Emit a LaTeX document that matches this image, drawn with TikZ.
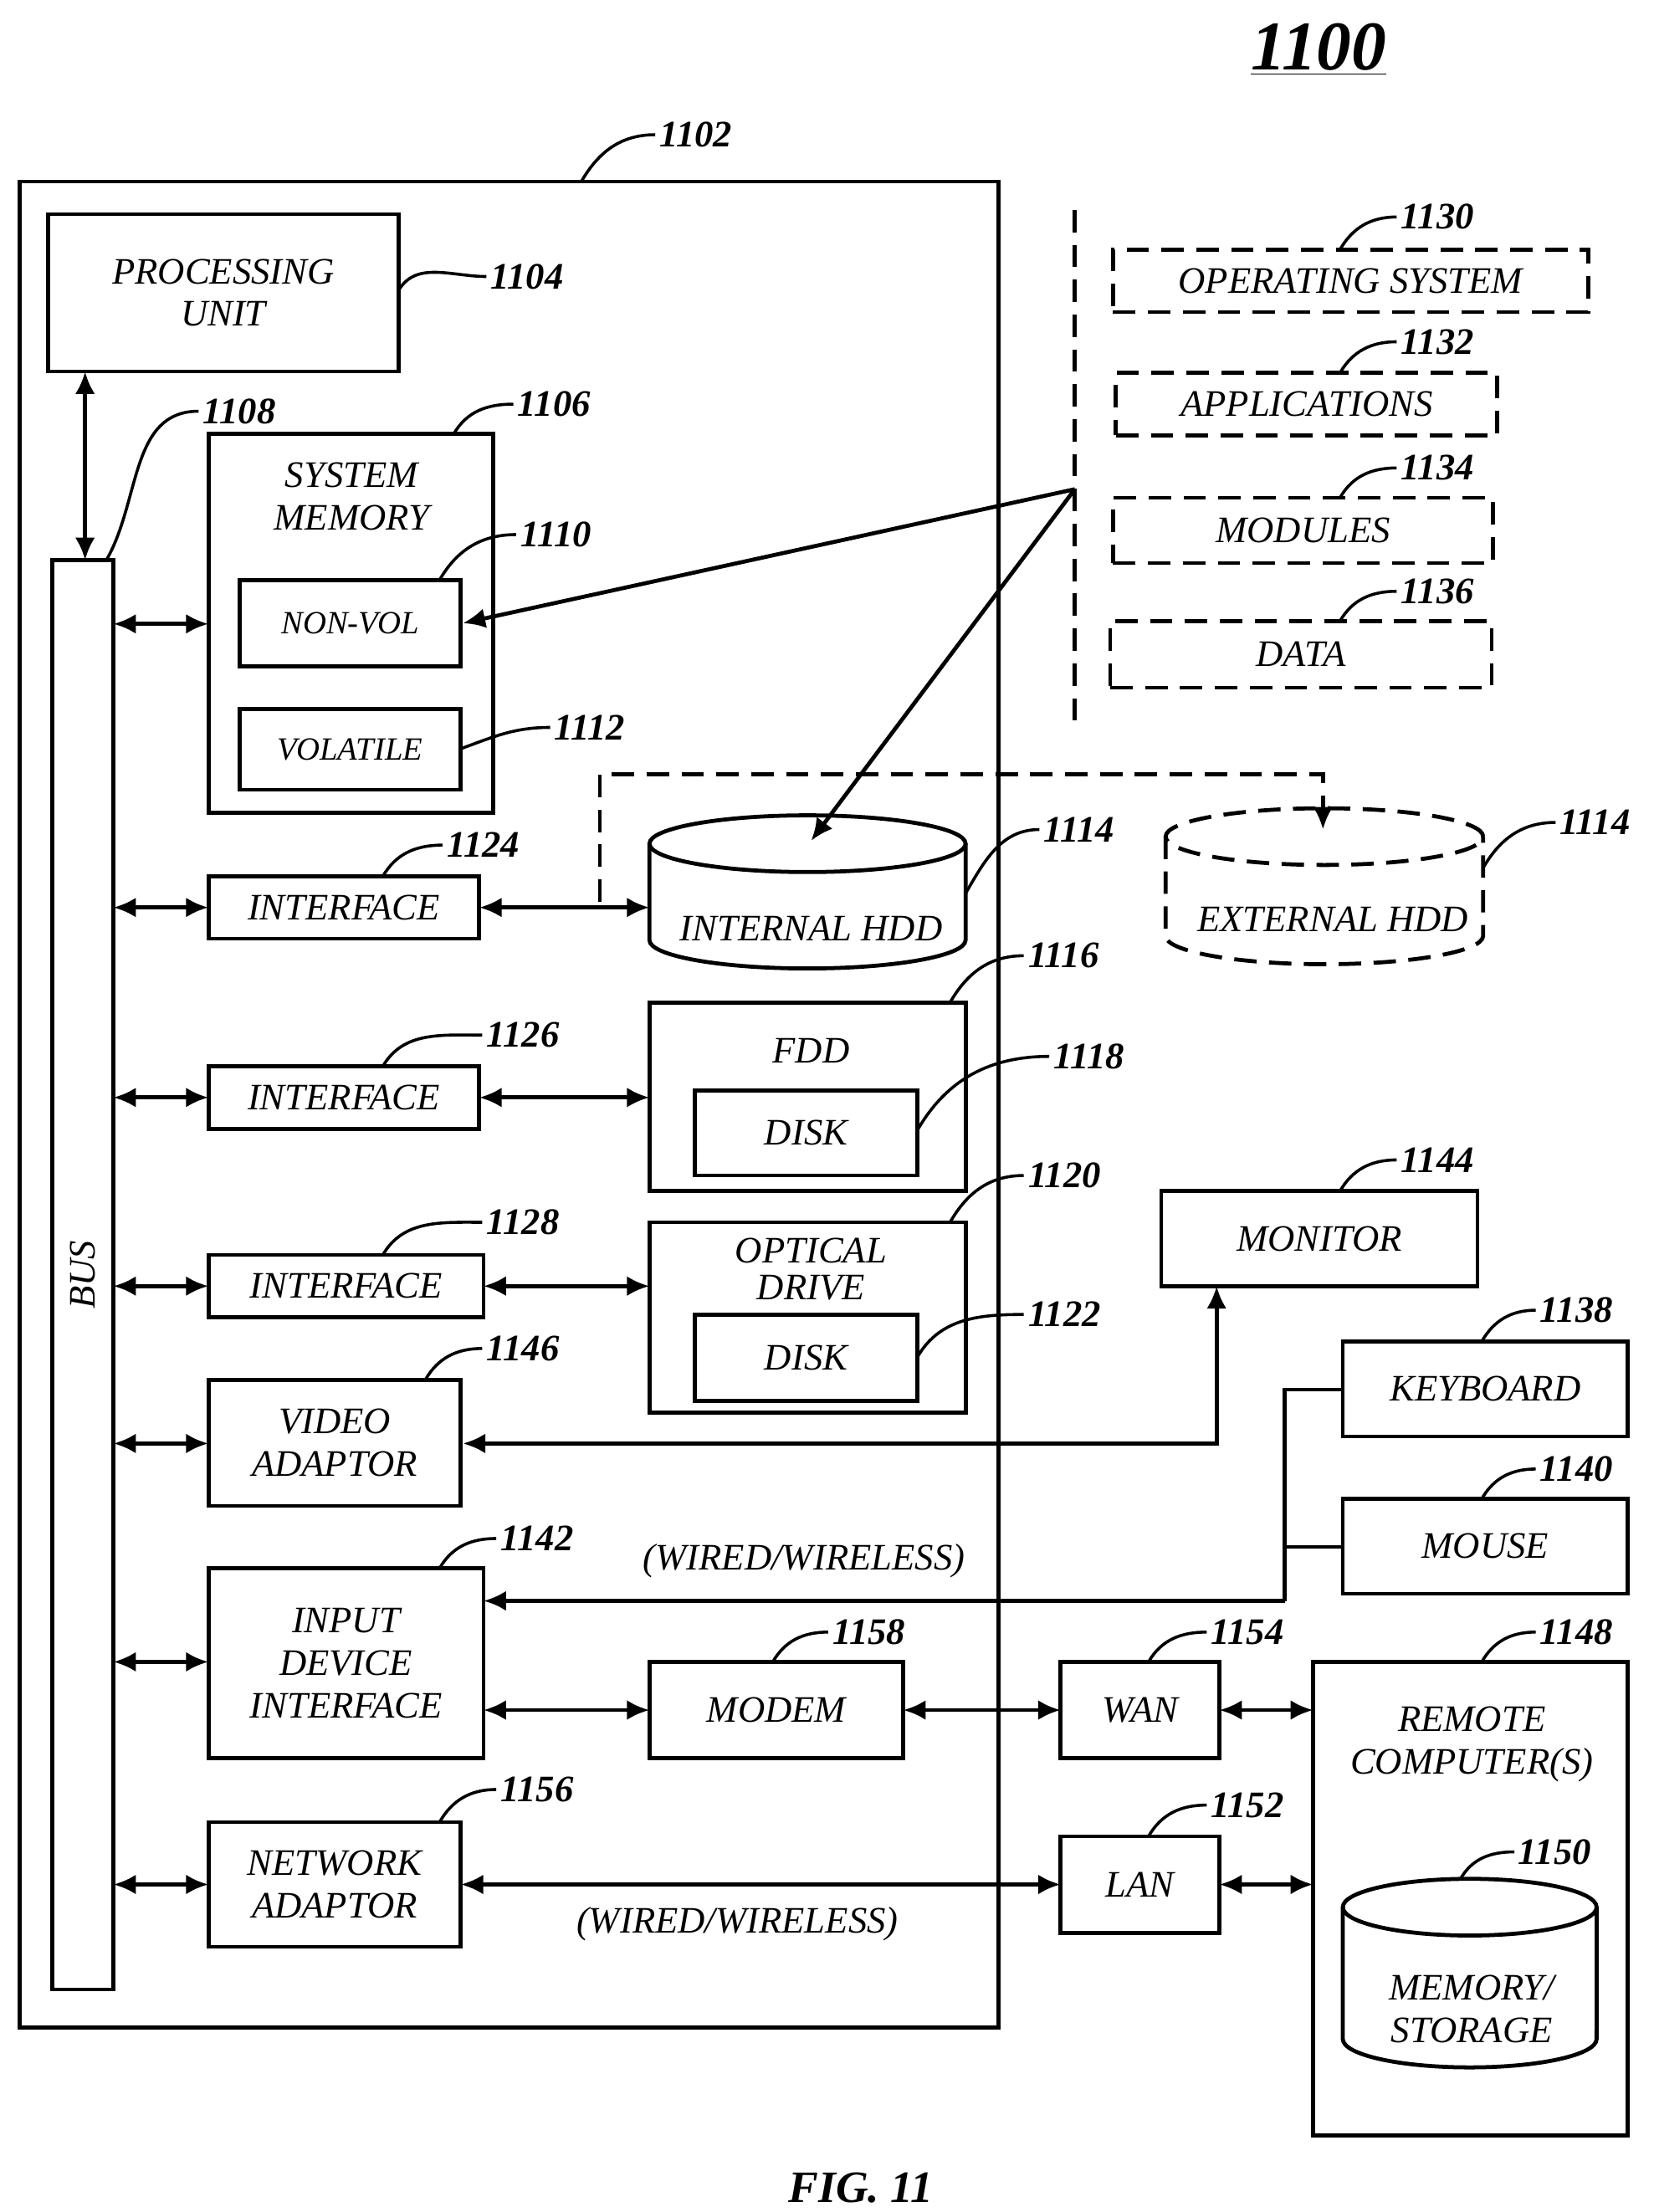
\documentclass[tikz,border=0pt]{standalone}
\usepackage{fontspec}
\setmainfont{Liberation Serif}
\usetikzlibrary{arrows.meta}
\begin{document}
\begin{tikzpicture}[x=0.02cm,y=-0.02cm,line width=1.6pt,
  dsh/.style={dash pattern=on 9pt off 5pt},
  box/.style={draw,inner sep=0pt,font=\fontsize{15}{17}\selectfont\itshape,align=center},
  dbox/.style={box,dsh},
  lab/.style={font=\fontsize{15}{17}\selectfont\bfseries\itshape,anchor=west,inner sep=1pt},
  txt/.style={font=\fontsize{15}{17}\selectfont\itshape,align=center,inner sep=0pt},
  ar/.style={-{Latex[length=9pt,width=8pt]}},
  dar/.style={{Latex[length=9pt,width=8pt]}-{Latex[length=9pt,width=8pt]}}]
\useasboundingbox (0,0) rectangle (1166,1560);
\newcommand\bx[6][box]{\node[#1,minimum width=(#4-#2)*0.02cm,minimum height=(#5-#3)*0.02cm] (#6) at ({(#2+#4)/2},{(#3+#5)/2}) {};}
\newcommand\ld[3]{\node[lab] (L#2) at (#3) {#2}; \draw[line width=1.2pt] (#1) to[out=60,in=180] (L#2.west);}
\node[font=\fontsize{28}{30}\selectfont\bfseries\itshape] (t) at (930,35) {\underline{1100}};
\node[font=\fontsize{18}{20}\selectfont\bfseries\itshape] (fig) at (607,1543) {FIG. 11};
% outer
\bx{14}{128}{704}{1430}{outer}
\ld{410,128}{1102}{462,95}
\bx{34}{151}{281}{262}{pu}\node[txt] at (pu) {PROCESSING\\UNIT};
\ld{281,205}{1104}{343,195}
\bx{37}{395}{80}{1403}{bus}\node[txt,rotate=90] at (bus) {BUS};
\draw[dar] (60,262) -- (60,395);
\ld{75,395}{1108}{140,290}
\bx{147}{306}{348}{573}{sm}\node[txt] at (248,350) {SYSTEM\\MEMORY};
\ld{320,306}{1106}{362,285}
\bx{169}{409}{325}{470}{nv}\node[txt,font=\fontsize{13}{15}\selectfont\itshape] at (nv) {NON-VOL};
\ld{310,409}{1110}{364,377}
\bx{169}{500}{325}{557}{vo}\node[txt,font=\fontsize{13}{15}\selectfont\itshape] at (vo) {VOLATILE};
\draw[line width=1.2pt] (325,528) to[out=20,in=180] (388,513) node[lab] {1112};
\draw[dar] (80,440) -- (147,440);
% interfaces
\bx{147}{618}{338}{662}{i1}\node[txt] at (i1) {INTERFACE};
\ld{270,618}{1124}{312,596}
\bx{147}{752}{338}{796}{i2}\node[txt] at (i2) {INTERFACE};
\ld{270,752}{1126}{340,730}
\bx{147}{885}{341}{929}{i3}\node[txt] at (i3) {INTERFACE};
\ld{270,885}{1128}{340,862}
\draw[dar] (80,640) -- (147,640);
\draw[dar] (80,774) -- (147,774);
\draw[dar] (80,907) -- (147,907);
% internal HDD
\draw (458,595) -- (458,663) arc[start angle=180,end angle=360,x radius=2.23cm,y radius=0.4cm] -- (681,595);
\draw (569.5,595) ellipse[x radius=2.23cm,y radius=0.4cm];
\coordinate (hddtop) at (572,593);
\node[txt] at (572,655) {INTERNAL HDD};
\ld{681,630}{1114}{733,585}
\draw[dar] (338,640) -- (458,640);
% external HDD
\draw[dsh] (822,590) -- (822,660) arc[start angle=180,end angle=360,x radius=2.24cm,y radius=0.4cm] -- (1046,590);
\draw[dsh] (934,590) ellipse[x radius=2.24cm,y radius=0.4cm];
\coordinate (ext) at (933,585);
\node[txt] at (940,648) {EXTERNAL HDD};
\draw[line width=1.2pt] (1046,612) to[out=60,in=180] (1097,580) node[lab] {1114};
\draw[dsh,ar] (423,636) -- (423,546) -- (933,546) -- (ext);
% FDD
\bx{458}{707}{681}{840}{fdd}\node[txt] at (572,741) {FDD};
\bx{490}{769}{647}{829}{d1}\node[txt] at (d1) {DISK};
\ld{670,707}{1116}{722,674}
\ld{647,797}{1118}{740,745}
\draw[dar] (338,774) -- (458,774);
\bx{458}{862}{681}{996}{od}\node[txt] at (572,895) {OPTICAL\\[-2pt]DRIVE};
\bx{490}{927}{647}{988}{d2}\node[txt] at (d2) {DISK};
\ld{670,862}{1120}{722,829}
\ld{647,957}{1122}{722,927}
\draw[dar] (341,907) -- (458,907);
% video
\bx{147}{973}{325}{1062}{va}\node[txt] at (va) {VIDEO\\ADAPTOR};
\ld{300,973}{1146}{340,951}
\draw[dar] (80,1018) -- (147,1018);
\bx{819}{840}{1042}{907}{mon}\node[txt] at (mon) {MONITOR};
\ld{945,840}{1144}{985,818}
\draw[dar] (va.east |- 0,1018) -- (858,1018) -- (858,907);
\bx{947}{946}{1148}{1013}{kb}\node[txt] at (kb) {KEYBOARD};
\ld{1045,946}{1138}{1083,924}
\bx{947}{1057}{1148}{1124}{ms}\node[txt] at (ms) {MOUSE};
\ld{1045,1057}{1140}{1083,1036}
% input device
\bx{147}{1106}{341}{1240}{idi}\node[txt] at (idi) {INPUT\\DEVICE\\INTERFACE};
\ld{310,1106}{1142}{350,1085}
\draw[line width=1.4pt] (947,980) -- (906,980) -- (906,1129);
\draw[line width=1.4pt] (947,1091) -- (906,1091);
\draw[ar] (906,1129) -- (341,1129);
\node[txt] at (567,1101) {(WIRED/WIRELESS)};
\draw[dar] (80,1172) -- (147,1172);
\bx{458}{1172}{637}{1240}{mod}\node[txt] at (mod) {MODEM};
\ld{545,1172}{1158}{584,1151}
\draw[dar] (341,1206) -- (458,1206);
\bx{748}{1172}{860}{1240}{wan}\node[txt] at (wan) {WAN};
\ld{810,1172}{1154}{851,1151}
\draw[dar] (637,1206) -- (748,1206);
\bx{926}{1172}{1148}{1506}{rc}\node[txt] at (1038,1230) {REMOTE\\COMPUTER(S)};
\ld{1045,1172}{1148}{1083,1151}
\draw[dar] (860,1206) -- (926,1206);
% memory storage
\draw (947,1345) -- (947,1438) arc[start angle=180,end angle=360,x radius=1.79cm,y radius=0.4cm] -- (1126,1345);
\draw (1036.5,1345) ellipse[x radius=1.79cm,y radius=0.4cm];
\node[txt] at (1038,1417) {MEMORY/\\STORAGE};
\draw[line width=1.2pt] (1030,1325) to[out=60,in=180] (1068,1306) node[lab] {1150};
% network
\bx{147}{1285}{325}{1373}{na}\node[txt] at (na) {NETWORK\\ADAPTOR};
\ld{310,1285}{1156}{350,1262}
\draw[dar] (80,1329) -- (147,1329);
\bx{748}{1295}{860}{1363}{lan}\node[txt] at (lan) {LAN};
\ld{810,1295}{1152}{851,1273}
\draw[dar] (325,1329) -- (748,1329);
\node[txt] at (520,1357) {(WIRED/WIRELESS)};
\draw[dar] (860,1329) -- (926,1329);
% software
\draw[dsh] (758,148) -- (758,512);
\bx[dbox]{785}{176}{1120}{220}{os}\node[txt] at (os) {OPERATING SYSTEM};
\ld{945,176}{1130}{985,153}
\bx[dbox]{787}{263}{1056}{307}{app}\node[txt] at (app) {APPLICATIONS};
\ld{945,263}{1132}{985,241}
\bx[dbox]{785}{351}{1053}{397}{mo}\node[txt] at (mo) {MODULES};
\ld{945,351}{1134}{985,330}
\bx[dbox]{783}{438}{1052}{485}{da}\node[txt] at (da) {DATA};
\ld{945,438}{1136}{985,417}
\coordinate (sw) at (758,345);
\draw[ar] (sw) -- (nv.east);
\draw[ar] (sw) -- (hddtop);
\end{tikzpicture}
\end{document}
